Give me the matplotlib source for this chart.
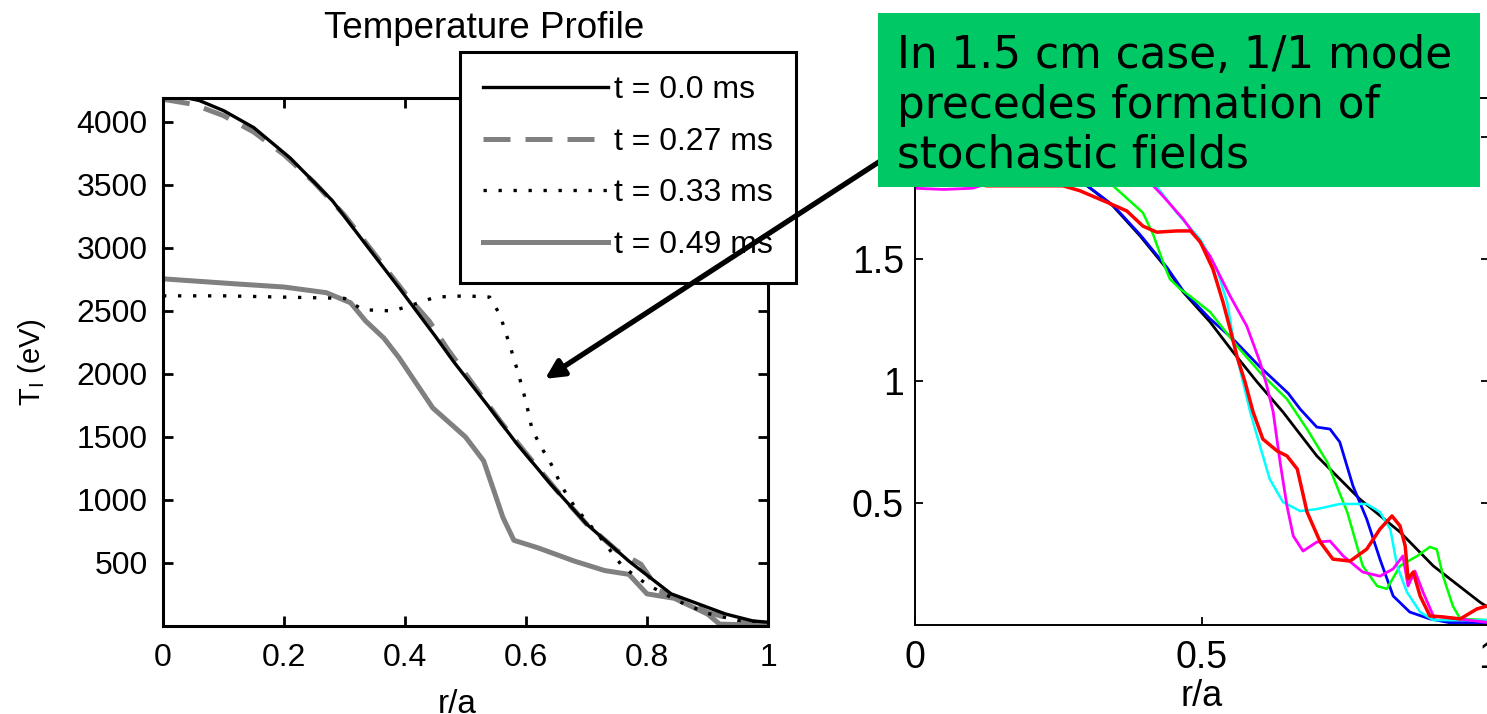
import matplotlib
matplotlib.use('Agg')
import matplotlib.pyplot as plt
from matplotlib.patches import Rectangle

# --- left panel: ion temperature profiles (eV) ---
r_t00 = [0, 0.06, 0.10, 0.15, 0.21, 0.28, 0.33, 0.39, 0.45, 0.48, 0.54, 0.585, 0.64, 0.70, 0.77, 0.84, 0.93, 0.975, 1.0]
T_t00 = [4230, 4170, 4090, 3955, 3715, 3375, 3060, 2685, 2300, 2100, 1730, 1445, 1130, 810, 515, 255, 95, 40, 30]

r_t27 = [0, 0.05, 0.10, 0.15, 0.20, 0.25, 0.30, 0.35, 0.40, 0.44, 0.47, 0.52, 0.56, 0.60, 0.65, 0.70, 0.75, 0.79, 0.82, 0.85, 0.90, 0.95, 1.0]
T_t27 = [4180, 4140, 4050, 3920, 3740, 3520, 3260, 2950, 2640, 2420, 2200, 1870, 1610, 1370, 1080, 810, 600, 490, 280, 225, 110, 40, 15]

r_t33 = [0.0, 0.10, 0.20, 0.30, 0.33, 0.38, 0.42, 0.45, 0.50, 0.54, 0.557, 0.565, 0.575, 0.587, 0.60, 0.61, 0.625, 0.64, 0.66, 0.68, 0.72, 0.76, 0.80, 0.85, 0.90, 0.95, 1.0]
T_t33 = [2620, 2620, 2610, 2600, 2510, 2500, 2560, 2610, 2620, 2610, 2470, 2350, 2200, 2010, 1780, 1560, 1420, 1300, 1100, 950, 720, 470, 330, 200, 100, 45, 30]

r_t49 = [0, 0.12, 0.20, 0.27, 0.31, 0.335, 0.365, 0.39, 0.446, 0.50, 0.53, 0.545, 0.562, 0.58, 0.62, 0.68, 0.73, 0.77, 0.80, 0.845, 0.90, 0.92, 1.0]
T_t49 = [2755, 2715, 2690, 2645, 2565, 2420, 2285, 2130, 1730, 1500, 1310, 1100, 860, 680, 620, 515, 440, 410, 255, 220, 95, 15, 5]

# --- right panel: normalised profiles ---
rb_k = [0, 0.10, 0.20, 0.30, 0.345, 0.392, 0.439, 0.467, 0.514, 0.554, 0.596, 0.641, 0.70, 0.775, 0.845, 0.903, 0.984, 1.0]
yb_k = [1.93, 1.92, 1.88, 1.80, 1.717, 1.595, 1.459, 1.365, 1.242, 1.119, 0.996, 0.873, 0.693, 0.516, 0.381, 0.242, 0.094, 0.07]

rb_b = [0, 0.10, 0.20, 0.30, 0.345, 0.392, 0.439, 0.467, 0.514, 0.554, 0.60, 0.625, 0.65, 0.671, 0.70, 0.723, 0.74, 0.763, 0.787, 0.81, 0.833, 0.862, 0.897, 0.93, 1.0]
yb_b = [1.95, 1.94, 1.89, 1.80, 1.72, 1.60, 1.465, 1.37, 1.255, 1.172, 1.06, 1.005, 0.95, 0.885, 0.811, 0.803, 0.75, 0.57, 0.434, 0.27, 0.119, 0.053, 0.025, 0.01, 0.01]

rb_g = [0, 0.10, 0.20, 0.30, 0.345, 0.397, 0.415, 0.432, 0.444, 0.462, 0.479, 0.514, 0.561, 0.603, 0.648, 0.683, 0.718, 0.753, 0.78, 0.805, 0.822, 0.845, 0.875, 0.897, 0.909, 0.92, 0.937, 0.95, 1.0]
yb_g = [1.98, 1.97, 1.92, 1.85, 1.80, 1.69, 1.60, 1.488, 1.418, 1.377, 1.348, 1.283, 1.143, 1.03, 0.926, 0.803, 0.668, 0.463, 0.242, 0.16, 0.148, 0.242, 0.283, 0.32, 0.31, 0.20, 0.078, 0.025, 0.02]

rb_c = [0, 0.10, 0.20, 0.30, 0.38, 0.42, 0.44, 0.456, 0.497, 0.526, 0.544, 0.554, 0.566, 0.584, 0.601, 0.618, 0.641, 0.671, 0.70, 0.74, 0.787, 0.81, 0.828, 0.84, 0.857, 0.88, 0.903, 1.0]
yb_c = [2.05, 2.04, 2.00, 1.93, 1.87, 1.80, 1.74, 1.69, 1.58, 1.459, 1.32, 1.18, 1.049, 0.873, 0.734, 0.598, 0.504, 0.467, 0.475, 0.496, 0.496, 0.463, 0.393, 0.242, 0.135, 0.053, 0.02, 0.02]

rb_m = [0, 0.05, 0.10, 0.20, 0.30, 0.38, 0.415, 0.432, 0.467, 0.514, 0.549, 0.578, 0.601, 0.613, 0.624, 0.636, 0.648, 0.659, 0.676, 0.70, 0.723, 0.746, 0.78, 0.81, 0.833, 0.85, 0.859, 0.871, 0.885, 0.903, 1.0]
yb_m = [1.79, 1.785, 1.79, 1.86, 1.90, 1.86, 1.80, 1.758, 1.664, 1.512, 1.348, 1.225, 1.078, 0.98, 0.873, 0.668, 0.488, 0.365, 0.303, 0.34, 0.344, 0.283, 0.217, 0.20, 0.23, 0.283, 0.16, 0.221, 0.135, 0.037, 0.01]

rb_r = [0, 0.10, 0.125, 0.20, 0.258, 0.287, 0.334, 0.369, 0.397, 0.421, 0.456, 0.48, 0.497, 0.519, 0.537, 0.549, 0.561, 0.575, 0.589, 0.606, 0.631, 0.648, 0.666, 0.683, 0.706, 0.728, 0.758, 0.787, 0.81, 0.831, 0.845, 0.854, 0.859, 0.868, 0.88, 0.897, 0.92, 0.95, 0.979, 0.997, 1.0]
yb_r = [1.83, 1.81, 1.80, 1.80, 1.80, 1.78, 1.733, 1.697, 1.635, 1.61, 1.615, 1.615, 1.57, 1.459, 1.32, 1.213, 1.10, 0.996, 0.873, 0.762, 0.713, 0.693, 0.639, 0.463, 0.34, 0.27, 0.262, 0.311, 0.393, 0.447, 0.406, 0.324, 0.189, 0.217, 0.119, 0.037, 0.033, 0.025, 0.066, 0.078, 0.075]

labels = ['t = 0.0 ms', 't = 0.27 ms', 't = 0.33 ms', 't = 0.49 ms']
note_lines = ['In 1.5 cm case, 1/1 mode', 'precedes formation of', 'stochastic fields']

W, H = 1487, 714
plt.rcParams['font.family'] = ['Liberation Sans', 'DejaVu Sans']
plt.rcParams['mathtext.default'] = 'regular'

fig = plt.figure(figsize=(W / 100, H / 100), dpi=100)

# left axes
ax1 = fig.add_axes([163 / W, 1 - 626 / H, 605 / W, 528 / H])
ax1.plot(r_t27, T_t27, color='#808080', lw=3.6, ls=(0, (5.4, 3)), label=labels[1], zorder=2)
ax1.plot(r_t49, T_t49, color='#808080', lw=3.6, label=labels[3], zorder=2)
ax1.plot(r_t33, T_t33, color='k', lw=2.4, ls=(0, (1, 3.5)), label=labels[2], zorder=3)
ax1.plot(r_t00, T_t00, color='k', lw=2.4, label=labels[0], zorder=4)
ax1.set_xlim(0, 1)
ax1.set_ylim(0, 4190)
ax1.set_xticks([0, 0.2, 0.4, 0.6, 0.8, 1])
ax1.set_xticklabels(['0', '0.2', '0.4', '0.6', '0.8', '1'])
ax1.set_yticks([500, 1000, 1500, 2000, 2500, 3000, 3500, 4000])
ax1.tick_params(direction='in', length=7, width=2, top=True, right=True, labelsize=23)
ax1.tick_params(axis='y', pad=11)
ax1.tick_params(axis='x', pad=12)
for s in ax1.spines.values():
    s.set_linewidth(2.2)
ax1.set_title('Temperature Profile', fontsize=26.5, x=0.53, pad=43)
ax1.set_xlabel('r/a', fontsize=24)
ax1.xaxis.set_label_coords(0.487, -0.12)
ax1.set_ylabel(r'T$_{I}$ (eV)', fontsize=21)
ax1.yaxis.set_label_coords(-0.19, 0.5)

h, l = ax1.get_legend_handles_labels()
order = [l.index(x) for x in labels]
leg = ax1.legend([h[i] for i in order], [l[i] for i in order], loc='upper left',
                 bbox_to_anchor=(460 / W, 1 - 52 / H), bbox_transform=fig.transFigure,
                 borderaxespad=0, fontsize=23, handlelength=3.9, handletextpad=0.2,
                 labelspacing=0.68, borderpad=0.72, fancybox=False, framealpha=1,
                 edgecolor='k')
leg.get_frame().set_linewidth(2.2)
leg.set_zorder(5)

# right axes
ax2 = fig.add_axes([915 / W, 1 - 625 / H, 574 / W, 527 / H])
ax2.plot(rb_k, yb_k, color='k', lw=2.0)
ax2.plot(rb_b, yb_b, color='#0000ff', lw=2.0)
ax2.plot(rb_g, yb_g, color='#00ff00', lw=1.8)
ax2.plot(rb_c, yb_c, color='#00ffff', lw=1.8)
ax2.plot(rb_m, yb_m, color='#ff00ff', lw=2.0)
ax2.plot(rb_r, yb_r, color='#ff0000', lw=2.5)
ax2.set_xlim(0, 1)
ax2.set_ylim(0, 527 / 244)
ax2.set_xticks([0, 0.5, 1])
ax2.set_xticklabels(['0', '0.5', '1'])
ax2.set_yticks([0.5, 1, 1.5, 2])
ax2.set_yticklabels(['0.5', '1', '1.5', '2'])
ax2.tick_params(direction='in', length=6, width=1.3, top=True, right=True, labelsize=27)
ax2.tick_params(axis='y', pad=8)
ax2.tick_params(axis='x', pad=11)
for s in ax2.spines.values():
    s.set_linewidth(1.4)
ax2.set_title('Ion Temperature Profile', fontsize=24, pad=44)
ax2.set_xlabel('r/a', fontsize=26, labelpad=2)

# annotation box and arrow
fig.patches.append(Rectangle((878 / W, 1 - 187 / H), 602 / W, 174 / H,
                             transform=fig.transFigure, facecolor='#00c864',
                             edgecolor='none', zorder=10))
for i, line in enumerate(note_lines):
    fig.text(897 / W, 1 - (68 + 50 * i) / H, line, fontsize=31.5, family='DejaVu Sans',
             va='baseline', ha='left', zorder=11)

ax1.annotate('', xy=((545 - 163) / 605, (625 - 378) * 7.94), xycoords='data',
             xytext=(885 / W, 1 - 158 / H), textcoords='figure fraction',
             arrowprops=dict(arrowstyle='-|>', lw=3.8, color='k', mutation_scale=28,
                             shrinkA=0, shrinkB=0),
             annotation_clip=False, zorder=6)

fig.savefig('out.png', dpi=100)
